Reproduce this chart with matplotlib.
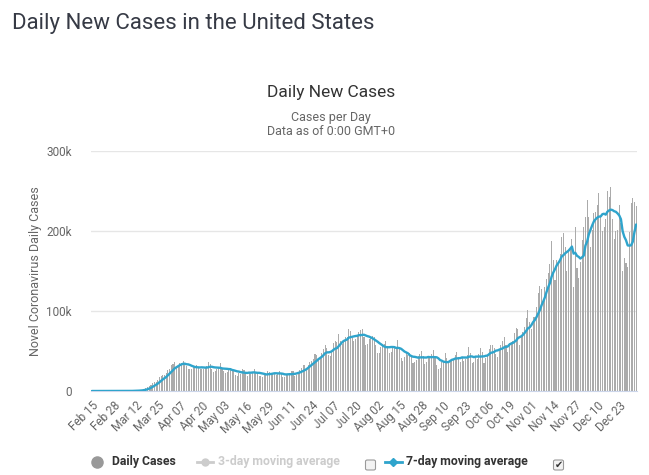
import matplotlib
matplotlib.use("Agg")
import matplotlib.pyplot as plt
import numpy as np
import pandas as pd
from matplotlib.lines import Line2D
from matplotlib.patches import FancyBboxPatch

# daily new cases, Feb 15 2020 .. Jan 02 2021
feb = [0, 0, 0, 0, 0, 0, 1, 0, 0, 0, 3, 0, 1, 1, 6]
mar = [8, 20, 25, 30, 70, 60, 100, 120, 180, 290, 420, 540, 700, 900, 1000, 1700,
       2500, 3500, 5300, 6400, 7400, 9400, 11000, 11500, 13500, 17800, 18700, 19600,
       19900, 22000, 26000]
apr = [28000, 32000, 34000, 36000, 29000, 32000, 35000, 35000, 37000, 35000, 31000,
       28000, 27000, 28000, 30000, 31000, 33000, 30000, 27000, 28000, 27000, 29000,
       31000, 36000, 34000, 27000, 24000, 25000, 28000, 30000]
may = [35000, 29000, 25000, 23000, 24000, 26000, 29000, 28000, 26000, 20000, 19000,
       22000, 21000, 27000, 26000, 24000, 19000, 22000, 21000, 23000, 28000, 24000,
       22000, 19000, 19000, 18000, 20000, 23000, 25000, 24000, 20000]
jun = [22000, 21000, 20000, 22000, 25000, 23000, 18000, 17000, 20000, 21000, 23000,
       25000, 25000, 19000, 20000, 24000, 26000, 29000, 32000, 33000, 27000, 32000,
       36000, 38000, 40000, 46000, 45000, 41000, 42000, 47000]
jul = [52000, 57000, 54000, 45000, 44000, 49000, 60000, 62000, 61000, 71000, 63000,
       59000, 62000, 67000, 68000, 77000, 75000, 66000, 63000, 65000, 69000, 74000,
       76000, 78000, 67000, 57000, 59000, 65000, 67000, 69000, 68000]
aug = [57000, 47000, 47000, 55000, 56000, 59000, 63000, 56000, 47000, 49000, 55000,
       55000, 52000, 64000, 53000, 41000, 37000, 43000, 47000, 45000, 48000, 45000,
       35000, 36000, 39000, 44000, 46000, 50000, 44000, 34000, 36000]
sep = [44000, 42000, 46000, 51000, 43000, 33000, 27000, 29000, 36000, 38000, 48000,
       41000, 35000, 36000, 39000, 40000, 45000, 49000, 43000, 36000, 42000, 38000,
       40000, 45000, 55000, 47000, 35000, 36000, 43000, 40000]
oct_ = [46000, 54000, 49000, 35000, 41000, 45000, 52000, 58000, 57000, 54000, 46000,
        43000, 52000, 58000, 62000, 68000, 57000, 49000, 60000, 61000, 63000, 72000,
        79000, 78000, 58000, 67000, 74000, 80000, 91000, 101000, 86000]
nov = [77000, 93000, 92000, 105000, 123000, 131000, 128000, 110000, 130000, 140000,
       147000, 159000, 187000, 164000, 139000, 164000, 161000, 171000, 192000, 198000,
       180000, 150000, 176000, 178000, 190000, 130000, 205000, 154000, 141000, 161000]
dec = [189000, 205000, 218000, 239000, 218000, 180000, 201000, 223000, 224000, 232000,
       248000, 219000, 200000, 205000, 215000, 250000, 243000, 255000, 215000, 190000,
       200000, 201000, 232000, 210000, 150000, 166000, 160000, 155000, 199000, 235000,
       241000]
jan = [236000, 231000]

daily = np.array(feb + mar + apr + may + jun + jul + aug + sep + oct_ + nov + dec + jan)
dates = pd.date_range("2020-02-15", periods=len(daily), freq="D")
avg7 = pd.Series(daily).rolling(7, min_periods=1).mean().values

W, H = 649, 475
plt.rcParams["font.family"] = ["Roboto", "DejaVu Sans"]

fig = plt.figure(figsize=(W / 100, H / 100), dpi=100)

def fx(x):
    return x / W

def fy(y):
    return 1 - y / H

ax = fig.add_axes([fx(91), fy(391), fx(637) - fx(91), fy(151) - fy(391)])

x = np.arange(len(daily))
ax.bar(x, daily, width=0.62, color="#ababab", linewidth=0, zorder=2)
ax.plot(x, avg7, color="#2fa4cc", lw=1.7, zorder=3, solid_capstyle="round")

ax.set_xlim(-0.5, len(daily) - 0.5)
ax.set_ylim(0, 300000)
ax.set_yticks([0, 100000, 200000, 300000])
ax.set_yticklabels(["0", "100k", "200k", "300k"])
ticks = x[::13]
ax.set_xticks(ticks)
ax.set_xticklabels([d.strftime("%b %d") for d in dates[::13]], rotation=45,
                   ha="right", rotation_mode="anchor")
ax.tick_params(axis="both", length=0, labelsize=8.5, colors="#666666")
ax.tick_params(axis="x", pad=6)
ax.tick_params(axis="y", pad=14)
ax.grid(axis="y", color="#e6e6e6", lw=1, zorder=0)
for s in ["top", "right", "left"]:
    ax.spines[s].set_visible(False)
ax.spines["bottom"].set_color("#ccd6eb")
ax.set_ylabel("Novel Coronavirus Daily Cases", color="#666666", fontsize=9, labelpad=3)

# titles
fig.text(fx(12), fy(23), "Daily New Cases in the United States", fontsize=16,
         color="#363a45", va="center", ha="left")
fig.text(fx(331), fy(92), "Daily New Cases", fontsize=12.5, color="#333333",
         ha="center", va="center")
fig.text(fx(331), fy(117), "Cases per Day", fontsize=9, color="#666666",
         ha="center", va="center")
fig.text(fx(331), fy(132), "Data as of 0:00 GMT+0", fontsize=9, color="#666666",
         ha="center", va="center")

# legend
ly = 462
fig.add_artist(Line2D([fx(97)], [fy(ly)], marker="o", markersize=8,
                      color="#999999", transform=fig.transFigure))
fig.text(fx(112), fy(ly), "Daily Cases", fontsize=8.8, fontweight="bold",
         color="#333333", va="center")
fig.add_artist(Line2D([fx(197), fx(213)], [fy(ly), fy(ly)], lw=2, color="#cccccc",
                      transform=fig.transFigure))
fig.add_artist(Line2D([fx(205)], [fy(ly)], marker="o", markersize=5,
                      color="#cccccc", transform=fig.transFigure))
fig.text(fx(218), fy(ly), "3-day moving average", fontsize=8.8, fontweight="bold",
         color="#cccccc", va="center")
fig.add_artist(Line2D([fx(385), fx(402)], [fy(ly), fy(ly)], lw=2, color="#2fa4cc",
                      transform=fig.transFigure))
fig.add_artist(Line2D([fx(393.5)], [fy(ly)], marker="D", markersize=4,
                      color="#2fa4cc", transform=fig.transFigure))
fig.text(fx(406), fy(ly), "7-day moving average", fontsize=8.8, fontweight="bold",
         color="#333333", va="center")
for cx in [370.5, 558.5]:
    fig.add_artist(FancyBboxPatch((fx(cx - 5), fy(ly + 8)), fx(10), fy(0) - fy(10),
                                  boxstyle="round,pad=0,rounding_size=0.003",
                                  facecolor="#f3f3f3", edgecolor="#9a9a9a", lw=0.8,
                                  transform=fig.transFigure))
fig.text(fx(558.5), fy(ly + 3), "\u2714", fontsize=7, color="#333333",
         ha="center", va="center", family="DejaVu Sans")

fig.savefig("out.png", dpi=100)
